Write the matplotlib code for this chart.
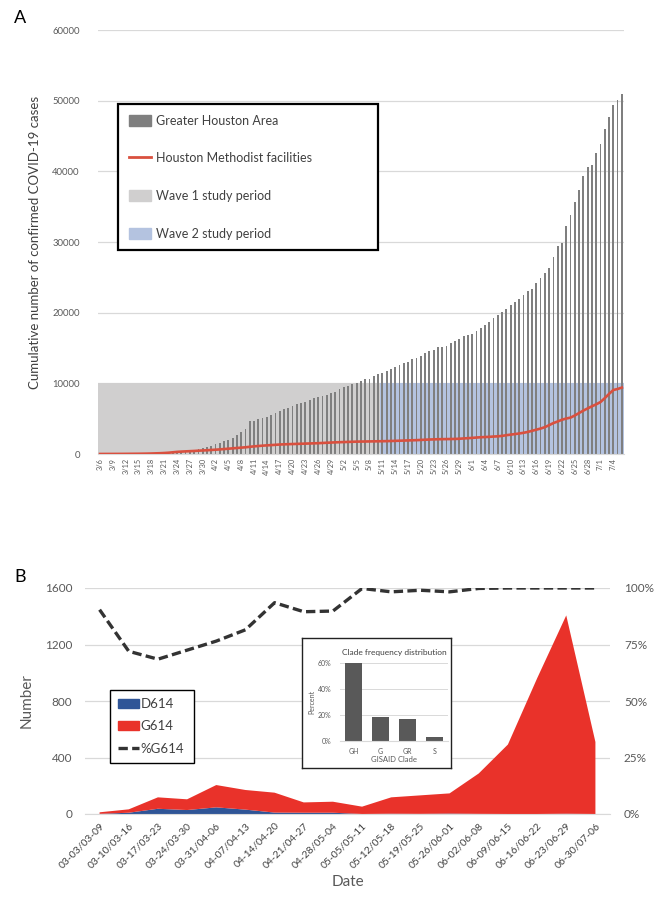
import numpy as np
import pandas as pd
import matplotlib
matplotlib.use("Agg")
import matplotlib.pyplot as plt
from matplotlib.patches import Patch
from matplotlib.lines import Line2D

plt.rcParams['font.family'] = ['Lato', 'DejaVu Sans']

# PANEL A DATA (daily, 3/6 - 7/6)

days = pd.date_range("2020-03-06", "2020-07-06")
day_labels = [f"{d.month}/{d.day}" for d in days]

houston_cases = [
    10, 12, 13, 14, 16, 19, 22, 27, 33, 40, 48, 58, 70, 90, 115, 150, 190, 240, 290, 350,
    410, 480, 560, 700, 850, 990, 1130, 1410, 1560, 1840, 2050, 2260, 2690, 3110, 3540, 4600,
    4700, 4950, 5090, 5230, 5510, 5800, 6080, 6360, 6500, 6790, 7070, 7210, 7350, 7640, 7920,
    8060, 8200, 8340, 8630, 8770, 9190, 9470, 9620, 9900, 10040, 10320, 10610, 10680, 11030,
    11300, 11410, 11740, 12020, 12350, 12540, 12910, 13010, 13430, 13620, 13860, 14240, 14520,
    14710, 15090, 15180, 15320, 15650, 15940, 16260, 16640, 16870, 17010, 17390, 17860, 18240,
    18710, 19190, 19700, 20090, 20470, 21040, 21510, 21980, 22450, 23010, 23290, 24140, 24890,
    25650, 26350, 27910, 29410, 29790, 32240, 33790, 35620, 37320, 39290, 40570, 40900, 42590,
    43860, 45980, 47720, 49370, 50120, 50970,
]

methodist_cases = [
    5, 6, 8, 10, 12, 15, 20, 25, 30, 35, 45, 55, 70, 90, 110, 140, 180, 240, 300, 340,
    370, 400, 430, 470, 500, 530, 570, 610, 650, 700, 750, 800, 850, 900, 950, 1020,
    1080, 1130, 1180, 1220, 1260, 1300, 1340, 1370, 1390, 1410, 1430, 1450, 1470, 1490, 1510,
    1530, 1560, 1590, 1620, 1650, 1670, 1690, 1710, 1730, 1750, 1760, 1770, 1780, 1790,
    1800, 1810, 1820, 1840, 1860, 1880, 1900, 1920, 1940, 1960, 1990, 2020, 2050,
    2070, 2090, 2100, 2110, 2120, 2130, 2160, 2200, 2240, 2280, 2330, 2370, 2400,
    2430, 2470, 2500, 2560, 2660, 2740, 2820, 2900, 3000, 3120, 3280, 3440, 3600,
    3800, 4080, 4380, 4600, 4850, 5020, 5150, 5450, 5800, 6140, 6450, 6750, 7030,
    7350, 7900, 8500, 9050, 9200, 9400,
]

wave1_last = "5/10"
wave_height = 10000

# PANEL B DATA (weekly)

weeks = ["03-03/03-09", "03-10/03-16", "03-17/03-23", "03-24/03-30", "03-31/04-06",
         "04-07/04-13", "04-14/04-20", "04-21/04-27", "04-28/05-04", "05-05/05-11",
         "05-12/05-18", "05-19/05-25", "05-26/06-01", "06-02/06-08", "06-09/06-15",
         "06-16/06-22", "06-23/06-29", "06-30/07-06"]
d614 = [1, 9, 37, 28, 47, 31, 10, 9, 9, 0, 2, 1, 3, 1, 0, 0, 2, 0]
g614 = [11, 24, 81, 76, 158, 139, 141, 73, 78, 52, 116, 131, 143, 286, 492, 960, 1404, 510]
pct_g614 = [0.904, 0.72, 0.685, 0.725, 0.765, 0.815, 0.935, 0.895, 0.898, 0.998, 0.983,
            0.99, 0.983, 0.998, 1.0, 1.0, 1.0, 1.0]

clades = ["GH", "G", "GR", "S"]
clade_freq = [0.60, 0.188, 0.173, 0.033]

W, H = 655, 900
fig = plt.figure(figsize=(W / 100, H / 100), dpi=100)

def fbox(x0, y0, x1, y1):
    return [x0 / W, 1 - y1 / H, (x1 - x0) / W, (y1 - y0) / H]

# =============================
# PANEL A
# =============================
ax1 = fig.add_axes(fbox(97.9, 30, 624, 454))
x = np.arange(len(days))
split = day_labels.index(wave1_last)
ax1.fill_between([-0.5, split + 0.5], 0, wave_height, color="#d0cfcf", lw=0, zorder=1)
ax1.fill_between([split + 0.5, len(days) - 0.5], 0, wave_height, color="#b4c3e0", lw=0, zorder=1)
ax1.bar(x, houston_cases, width=0.42, color="#7f7f7f", zorder=2)
ax1.plot(x, methodist_cases, color="#d9503f", lw=1.9, zorder=3)

ax1.set_xlim(-0.5, len(days) - 0.5)
ax1.set_ylim(0, 60000)
ax1.set_yticks(np.arange(0, 60001, 10000))
ax1.yaxis.grid(True, color="#d9d9d9", lw=0.9)
ax1.set_axisbelow(True)
ax1.set_xticks(x[::3])
ax1.set_xticklabels(day_labels[::3], rotation=90, fontsize=5.3, color="#595959")
ax1.tick_params(axis="x", length=0, pad=3)
ax1.tick_params(axis="y", length=0, pad=13, labelsize=6.8, labelcolor="#595959")
for s in ["top", "right", "left"]:
    ax1.spines[s].set_visible(False)
ax1.spines["bottom"].set_color("#d9d9d9")
ax1.set_ylabel("Cumulative number of confirmed COVID-19 cases", fontsize=9.5,
               color="#404040", labelpad=8)

handles1 = [Patch(color="#7f7f7f"), Line2D([], [], color="#d9503f", lw=2),
            Patch(color="#d0cfcf"), Patch(color="#b4c3e0")]
labels1 = ["Greater Houston Area", "Houston Methodist facilities",
           "Wave 1 study period", "Wave 2 study period"]
leg1 = ax1.legend(handles1, labels1, loc="upper left",
                  bbox_to_anchor=(118 / W, 1 - 104 / H, 260 / W, 0),
                  bbox_transform=fig.transFigure, mode="expand", fontsize=9,
                  labelspacing=2.05, handlelength=1.8, handleheight=1.0,
                  handletextpad=0.35, borderpad=0.85, borderaxespad=0,
                  frameon=True, fancybox=False, framealpha=1, edgecolor="black")
leg1.get_frame().set_linewidth(1.6)
for t in leg1.get_texts():
    t.set_color("#404040")

fig.text(14 / W, 1 - 18 / H, "A", fontsize=13, va="center", ha="left")
fig.text(14 / W, 1 - 577 / H, "B", fontsize=13, va="center", ha="left")

# =============================
# PANEL B
# =============================
ax2 = fig.add_axes(fbox(85, 588, 610, 814))
xw = np.arange(len(weeks))
ax2.stackplot(xw, d614, g614, colors=["#2f5597", "#e9322a"], lw=0, zorder=2)
ax2.set_xlim(-0.5, len(weeks) - 0.5)
ax2.set_ylim(0, 1600)
ax2.set_yticks([0, 400, 800, 1200, 1600])
ax2.yaxis.grid(True, color="#d9d9d9", lw=0.9)
ax2.set_axisbelow(True)
ax2.set_xticks(xw)
ax2.set_xticklabels(weeks, rotation=45, ha="right", rotation_mode="anchor",
                    fontsize=7.5, color="#404040")
ax2.tick_params(axis="x", length=0, pad=5)
ax2.tick_params(axis="y", length=0, pad=9, labelsize=8.5, labelcolor="#595959")
for s in ["top", "right", "left"]:
    ax2.spines[s].set_visible(False)
ax2.spines["bottom"].set_color("#d9d9d9")
ax2.set_ylabel("Number", fontsize=11, color="#595959", labelpad=8)
ax2.set_xlabel("Date", fontsize=11, color="#595959", labelpad=4)

ax2r = ax2.twinx()
ax2r.plot(xw, pct_g614, color="#333333", lw=2.4, dashes=(2.8, 1.3), zorder=3)
ax2r.set_ylim(0, 1)
ax2r.set_yticks([0, 0.25, 0.5, 0.75, 1.0])
ax2r.set_yticklabels(["0%", "25%", "50%", "75%", "100%"])
ax2r.tick_params(axis="y", length=0, pad=10, labelsize=8.5, labelcolor="#595959")
for s in ["top", "right", "left", "bottom"]:
    ax2r.spines[s].set_visible(False)

handles2 = [Patch(color="#2f5597"), Patch(color="#e9322a"),
            Line2D([], [], color="#333333", lw=2.4, dashes=(2.8, 1.3))]
leg2 = ax2r.legend(handles2, ["D614", "G614", "%G614"], loc="upper left",
                   bbox_to_anchor=(110 / W, 1 - 690 / H, 84 / W, 0),
                   bbox_transform=fig.transFigure, mode="expand", fontsize=9.5,
                   labelspacing=0.8, handlelength=1.6, handleheight=0.7,
                   handletextpad=0.1, borderpad=0.6, borderaxespad=0,
                   frameon=True, fancybox=False, framealpha=1, edgecolor="black")
leg2.get_frame().set_linewidth(1.0)
for t in leg2.get_texts():
    t.set_color("#404040")

# inset
frame = fig.add_axes(fbox(302, 638, 451, 768))
frame.set_xticks([])
frame.set_yticks([])
frame.set_facecolor("white")
for s in frame.spines.values():
    s.set_color("#222222")
    s.set_linewidth(1.0)

ins = fig.add_axes(fbox(340, 663, 448, 741))
ins.bar(np.arange(len(clades)), clade_freq, width=0.66, color="#595959", zorder=2)
ins.set_xlim(-0.5, len(clades) - 0.5)
ins.set_ylim(0, 0.6)
ins.set_yticks([0, 0.2, 0.4, 0.6])
ins.set_yticklabels(["0%", "20%", "40%", "60%"])
ins.yaxis.grid(True, color="#d9d9d9", lw=0.7)
ins.set_axisbelow(True)
ins.set_xticks(np.arange(len(clades)))
ins.set_xticklabels(clades)
ins.tick_params(axis="both", length=0, labelsize=5, labelcolor="#595959")
ins.tick_params(axis="x", pad=5)
ins.tick_params(axis="y", pad=6)
for s in ["top", "right", "left"]:
    ins.spines[s].set_visible(False)
ins.spines["bottom"].set_color("#d9d9d9")
ins.set_xlabel("GISAID Clade", fontsize=5.5, color="#595959", labelpad=1)
ins.set_ylabel("Percent", fontsize=5, color="#595959", labelpad=2)
ins.set_title("Clade frequency distribution", fontsize=6, color="#404040", pad=6)

fig.savefig("out.png", dpi=100)
